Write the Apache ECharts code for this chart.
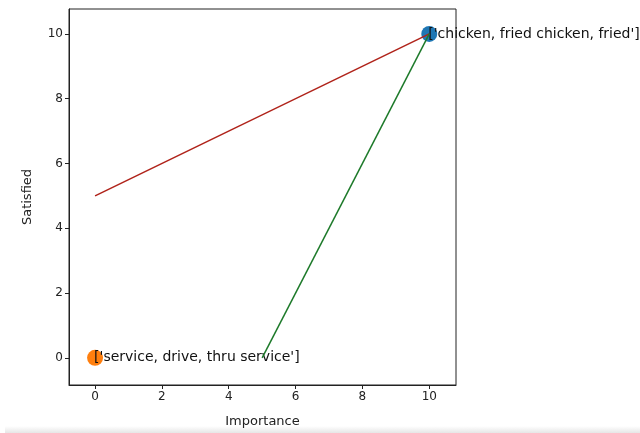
<!DOCTYPE html>
<html>
<head>
<meta charset="utf-8">
<script src="https://cdn.jsdelivr.net/npm/echarts@6/dist/echarts.min.js"></script>
<style>
html,body{margin:0;padding:0;background:#fff;}
#c{width:640px;height:433px;}
</style>
</head>
<body>
<div id="c"></div>
<script>
const pointNames = ["['chicken, fried chicken, fried']", "['service, drive, thru service']"];
const pointImportance = [10, 0];
const pointSatisfied = [10, 0];
const pointColors = ['#1f77b4', '#ff7f0e'];
const redLine = [[0, 5], [10, 10]];
const greenLine = [[5, 0], [10, 10]];
const tickValues = [0, 2, 4, 6, 8, 10];

const chart = echarts.init(document.getElementById('c'));
const font = 'DejaVu Sans';

const scatterSeries = pointNames.map((n, i) => ({
  type: 'scatter',
  symbolSize: 16,
  itemStyle: { color: pointColors[i], opacity: 1 },
  data: [[pointImportance[i], pointSatisfied[i], n]],
  label: {
    show: true,
    position: 'inside',
    align: 'left',
    verticalAlign: 'middle',
    offset: [-1, 0],
    color: '#111',
    fontFamily: font,
    fontSize: 14,
    formatter: p => p.data[2]
  },
  z: 2
}));

const axisCommon = {
  type: 'value',
  axisLine: { show: true, onZero: false, lineStyle: { color: '#222', width: 1 } },
  axisTick: { show: true, customValues: tickValues, length: 4, lineStyle: { color: '#222' } },
  axisLabel: { customValues: tickValues, color: '#222', fontFamily: font, fontSize: 12, margin: 6 },
  splitLine: { show: false },
  nameLocation: 'middle',
  nameTextStyle: { color: '#222', fontFamily: font, fontSize: 13 }
};

chart.setOption({
  animation: false,
  backgroundColor: '#fff',
  grid: { left: 69, right: 184, top: 9, bottom: 48, show: true, borderColor: '#222', borderWidth: 1, backgroundColor: 'transparent' },
  xAxis: Object.assign({}, axisCommon, { min: -0.78, max: 10.8, name: 'Importance', nameGap: 30 }),
  yAxis: Object.assign({}, axisCommon, { min: -0.84, max: 10.77, name: 'Satisfied', nameGap: 35 }),
  graphic: [{
    type: 'rect',
    shape: { x: 5, y: 426, width: 635, height: 7 },
    style: { fill: new echarts.graphic.LinearGradient(0, 0, 0, 1, [{ offset: 0, color: '#ffffff' }, { offset: 1, color: '#e6e6e6' }]) },
    silent: true
  }],
  series: scatterSeries.concat([
    { type: 'line', data: redLine, symbol: 'none', lineStyle: { color: '#b0231a', width: 1.5 }, z: 3 },
    { type: 'line', data: greenLine, symbol: 'none', lineStyle: { color: '#1d7a2a', width: 1.5 }, z: 3 }
  ])
});
</script>
</body>
</html>
